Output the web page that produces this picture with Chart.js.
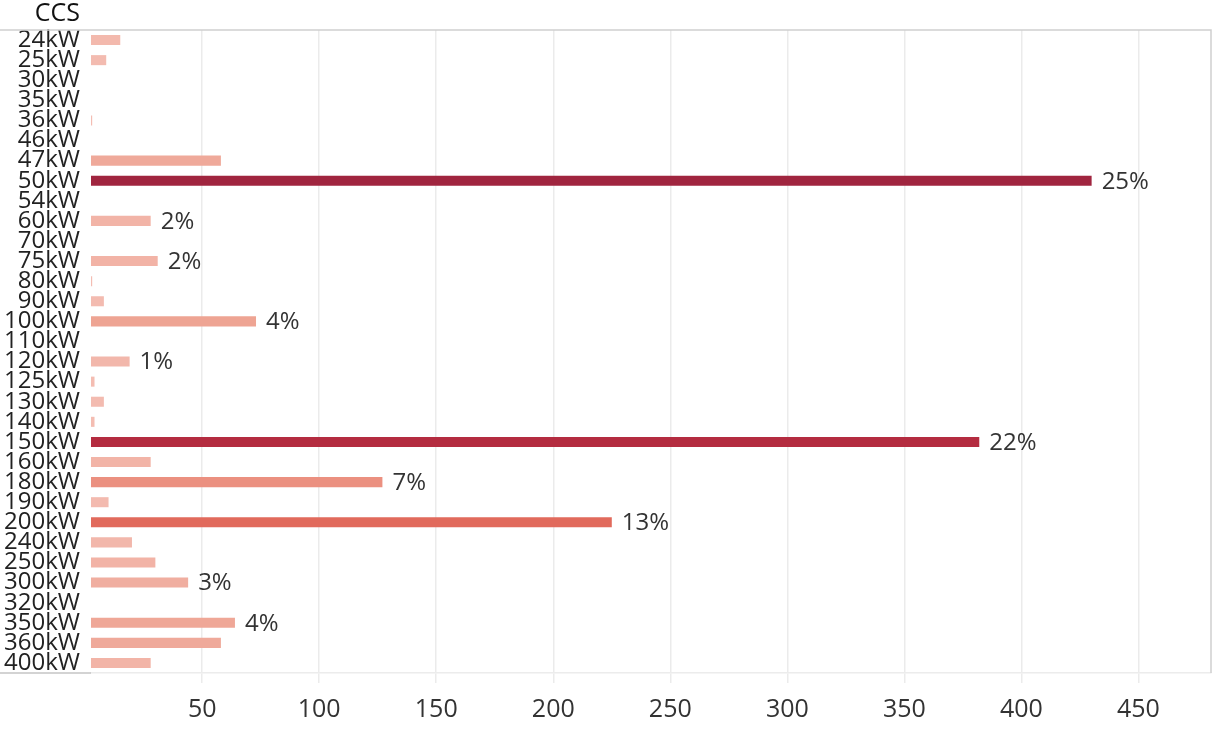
<!DOCTYPE html>
<html>
<head>
<meta charset="utf-8">
<script src="https://cdn.jsdelivr.net/npm/chart.js@4"></script>
<style>
  body { margin: 0; background: #fff; }
</style>
</head>
<body>
<canvas id="ccsChart" width="1220" height="729"></canvas>
<script>
const categories = [
    '24kW', '25kW', '30kW', '35kW', '36kW', '46kW', '47kW', '50kW',
    '54kW', '60kW', '70kW', '75kW', '80kW', '90kW', '100kW', '110kW',
    '120kW', '125kW', '130kW', '140kW', '150kW', '160kW', '180kW', '190kW',
    '200kW', '240kW', '250kW', '300kW', '320kW', '350kW', '360kW', '400kW'
];
const counts = [
    15, 9, null, null, 3, null, 58, 430,
    null, 28, null, 31, 3, 8, 73, null,
    19, 4, 8, 4, 382, 28, 127, 10,
    225, 20, 30, 44, null, 64, 58, 28
];
const pctLabels = [
    '', '', '', '', '', '', '', '25%',
    '', '2%', '', '2%', '', '', '4%', '',
    '1%', '', '', '', '22%', '', '7%', '',
    '13%', '', '', '3%', '', '4%', '', ''
];
const xTicks = [50, 100, 150, 200, 250, 300, 350, 400, 450];
const headerText = 'CCS';

// colour ramp (value -> rgb), light pink to dark crimson
const ramp = [
    [0, [244, 190, 180]],
    [75, [238, 163, 146]],
    [127, [235, 144, 128]],
    [225, [225, 106, 92]],
    [382, [180, 44, 64]],
    [430, [160, 37, 63]]
];
function barColor(v) {
    if (v == null) return 'rgba(0,0,0,0)';
    for (let i = 1; i < ramp.length; i++) {
        if (v <= ramp[i][0]) {
            const a = ramp[i - 1], b = ramp[i];
            const t = (v - a[0]) / (b[0] - a[0]);
            const c = a[1].map((x, k) => Math.round(x + (b[1][k] - x) * t));
            return 'rgb(' + c.join(',') + ')';
        }
    }
    return 'rgb(' + ramp[ramp.length - 1][1].join(',') + ')';
}

const FONT = "'Open Sans', sans-serif";

const framePlugin = {
    id: 'frame',
    afterDatasetsDraw(chart) {
        const ctx = chart.ctx;
        const meta = chart.getDatasetMeta(0);
        ctx.save();
        ctx.font = '24px ' + FONT;
        ctx.fillStyle = '#333';
        ctx.textAlign = 'left';
        ctx.textBaseline = 'middle';
        meta.data.forEach((bar, i) => {
            if (pctLabels[i]) ctx.fillText(pctLabels[i], bar.x + 10, bar.y + 1);
        });
        ctx.restore();
    },
    afterDraw(chart) {
        const ctx = chart.ctx;
        const a = chart.chartArea;
        ctx.save();
        ctx.strokeStyle = '#cfcfcf';
        ctx.lineWidth = 1.5;
        ctx.beginPath();
        ctx.moveTo(0, a.top);
        ctx.lineTo(a.right, a.top);
        ctx.lineTo(a.right, a.bottom);
        ctx.stroke();
        ctx.strokeStyle = '#c4c4c4';
        ctx.beginPath();
        ctx.moveTo(0, a.bottom);
        ctx.lineTo(a.left, a.bottom);
        ctx.stroke();
        ctx.font = '25px ' + FONT;
        ctx.fillStyle = '#111';
        ctx.textAlign = 'right';
        ctx.textBaseline = 'middle';
        ctx.fillText(headerText, a.left - 11, 14);
        ctx.restore();
    }
};

new Chart(document.getElementById('ccsChart').getContext('2d'), {
    type: 'bar',
    data: {
        labels: categories,
        datasets: [{
            data: counts,
            backgroundColor: counts.map(barColor),
            categoryPercentage: 1,
            barPercentage: 0.5
        }]
    },
    options: {
        indexAxis: 'y',
        responsive: false,
        animation: false,
        devicePixelRatio: 1,
        layout: { padding: { top: 30, right: 9, left: 0, bottom: 0 } },
        plugins: {
            legend: { display: false },
            tooltip: { enabled: false }
        },
        scales: {
            x: {
                type: 'linear',
                min: 2.5,
                max: 481,
                afterBuildTicks: s => { s.ticks = xTicks.map(v => ({ value: v })); },
                afterFit: s => { s.height = 56; },
                grid: { color: '#ebebeb', lineWidth: 1.5, tickLength: 10, drawTicks: true },
                border: { display: true, color: '#ececec', width: 1.5 },
                ticks: {
                    color: '#333',
                    padding: 12,
                    maxRotation: 0,
                    font: { family: FONT, size: 25 }
                }
            },
            y: {
                afterFit: s => { s.width = 91; },
                grid: { display: false, drawTicks: false },
                border: { display: false },
                ticks: {
                    autoSkip: false,
                    color: '#222',
                    padding: 11,
                    font: { family: FONT, size: 24 }
                }
            }
        }
    },
    plugins: [framePlugin]
});
</script>
</body>
</html>
